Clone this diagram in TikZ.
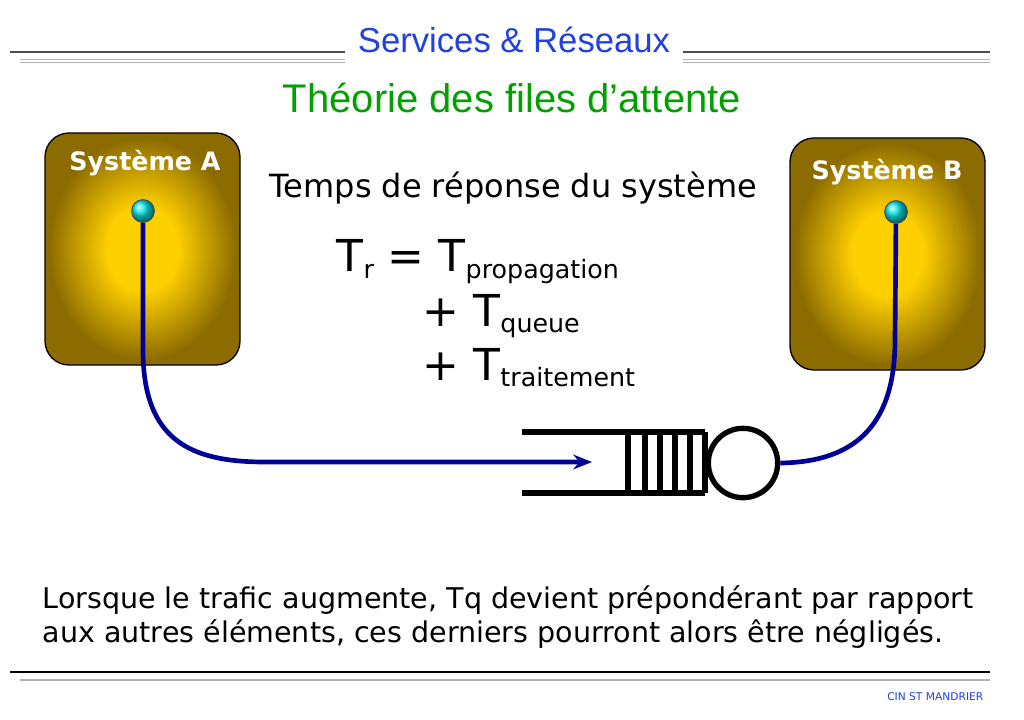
\documentclass[tikz,border=0pt]{standalone}
\usepackage{fontspec}
\setmainfont{Liberation Sans}
\newfontfamily\comic{DejaVu Sans}
\usetikzlibrary{arrows.meta}
\definecolor{hdblue}{RGB}{32,64,224}
\definecolor{ttgreen}{RGB}{0,160,0}
\definecolor{wireblue}{RGB}{0,0,150}
\definecolor{boxgold}{RGB}{255,208,0}
\definecolor{boxdark}{RGB}{140,108,0}
\pgfdeclareradialshading{boxglow}{\pgfpoint{0bp}{0bp}}{color(0bp)=(boxgold); color(9bp)=(boxgold); color(24bp)=(boxdark); color(50bp)=(boxdark)}
\newcommand{\Tsub}[1]{T\raisebox{-0.25ex}{\fontsize{19pt}{22pt}\selectfont #1}}
\tikzset{
  sysbox/.style={draw=black, line width=1pt, rounded corners=18pt, shading=boxglow},
  wire/.style={draw=wireblue, line width=3.5pt},
  plug/.style={circle, draw=black!70, line width=.6pt, inner sep=0pt, minimum size=17pt, ball color=cyan!80!teal},
  qline/.style={line width=4pt},
  eq/.style={anchor=base west, font=\comic\fontsize{33pt}{38pt}\selectfont}
}
\begin{document}
\begin{tikzpicture}[x=0.75pt,y=-0.75pt]
\useasboundingbox (0,0) rectangle (1024,720);
% header
\draw[line width=2pt, black!70] (10,52) -- (345,52);
\draw[black!30] (20,59) -- (345,59);
\draw[black!30] (20,62) -- (345,62);
\draw[line width=2pt, black!70] (683,52) -- (990,52);
\draw[black!30] (683,59) -- (990,59);
\draw[black!30] (683,62) -- (990,62);
\node (hdr) at (514,40) {\fontsize{26pt}{30pt}\selectfont\color{hdblue}Services \& Réseaux};
\node (titre) at (512,98) {\fontsize{30pt}{35pt}\selectfont\color{ttgreen}Théorie des files d'attente};
% systemes
\shadedraw[sysbox] (45,133) rectangle (240,365);
\shadedraw[sysbox] (790,138) rectangle (985,370);
\node[white] (labA) at (145,163) {\comic\bfseries\fontsize{19pt}{22pt}\selectfont Système A};
\node[white] (labB) at (887,172) {\comic\bfseries\fontsize{19pt}{22pt}\selectfont Système B};
% file d'attente
\draw[qline] (522,432) -- (705,432);
\draw[qline] (522,493) -- (705,493);
\foreach \x in {628,645,660,675,690,705}
  \draw[qline] (\x,432) -- (\x,493);
\node[circle, draw, line width=4pt, minimum size=52pt] (serv) at (743,463) {};
\coordinate (fin) at (592,462);
% fils
\node[plug] (pA) at (143,211) {};
\node[plug] (pB) at (896,212) {};
\draw[wire, -{Stealth[length=14pt,width=11pt]}] (pA) -- (143,350) .. controls (143,440) and (190,462) .. (265,462) -- (fin);
\draw[wire] (serv.east) .. controls (860,462) and (895,420) .. (895,340) -- (pB);
\node[plug] at (143,211) {};
\node[plug] at (896,212) {};
% textes
\node[anchor=west] (temps) at (265,188) {\comic\fontsize{24pt}{28pt}\selectfont Temps de réponse du système};
\node[eq] (tr) at (332,272) {\Tsub{r} = \Tsub{propagation}};
\node[eq] (tq) at (418,326) {+ \Tsub{queue}};
\node[eq] (tt) at (418,380) {+ \Tsub{traitement}};
\node[anchor=base west] (bas1) at (38,608) {\comic\fontsize{21.4pt}{25pt}\selectfont Lorsque le trafic augmente, Tq devient prépondérant par rapport};
\node[anchor=base west] (bas2) at (38,642) {\comic\fontsize{21.4pt}{25pt}\selectfont aux autres éléments, ces derniers pourront alors être négligés.};
% pied
\draw[line width=1pt] (10,672) -- (990,672);
\draw[black!30, line width=1pt] (20,680) -- (990,680);
\node[anchor=east] (cin) at (988,697) {\comic\fontsize{8pt}{10pt}\selectfont\color{hdblue}CIN ST MANDRIER};
\end{tikzpicture}
\end{document}
